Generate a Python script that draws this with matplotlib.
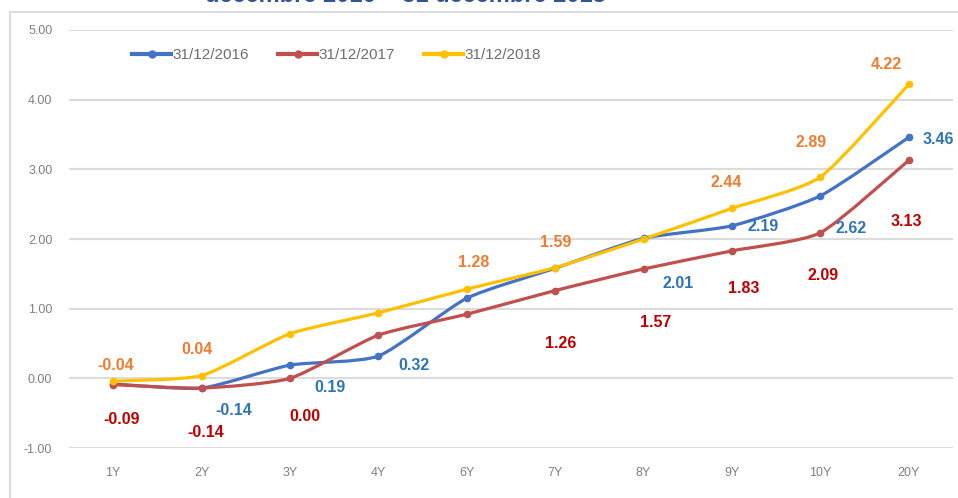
import numpy as np
import matplotlib.pyplot as plt
from matplotlib.path import Path
from matplotlib.patches import PathPatch
from matplotlib.lines import Line2D

plt.rcParams['font.family'] = ['Liberation Sans', 'DejaVu Sans']

maturities = ['1Y', '2Y', '3Y', '4Y', '6Y', '7Y', '8Y', '9Y', '10Y', '20Y']
dates = ['31/12/2016', '31/12/2017', '31/12/2018']
rates_2016 = [-0.08, -0.14, 0.19, 0.32, 1.15, 1.58, 2.01, 2.19, 2.62, 3.46]
rates_2017 = [-0.09, -0.14, 0.00, 0.62, 0.92, 1.26, 1.57, 1.83, 2.09, 3.13]
rates_2018 = [-0.04, 0.04, 0.64, 0.94, 1.28, 1.59, 2.00, 2.44, 2.89, 4.22]
yticks = [-1, 0, 1, 2, 3, 4, 5]

# label offsets in pixels, keyed by maturity index (None = no label)
off_2016 = [None, (32, -22), (40, -22), (36, -9), None, None,
            (35, -45), (31, -1), (31, -33), (30, -2)]
off_2017 = [(8, -35), (4, -44), (15, -38), None, None, (5, -53),
            (12, -54), (12, -38), (3, -43), (-2, -61)]
off_2018 = [(2, 16), (-5, 26), None, None, (7, 27), (0, 25),
            None, (-6, 26), (-9, 34), (-22, 20)]

series = [
    (rates_2016, '#4472C4', '#2E75B6', off_2016),
    (rates_2017, '#C0504D', '#C00000', off_2017),
    (rates_2018, '#FFC000', '#ED7D31', off_2018),
]


def smooth_path(x, y, k=0.1):
    # cubic bezier segments through every point, light smoothing
    pts = np.column_stack([x, y])
    n = len(pts)
    verts = [pts[0]]
    codes = [Path.MOVETO]
    for i in range(n - 1):
        p0 = pts[i - 1] if i > 0 else pts[i]
        p1 = pts[i]
        p2 = pts[i + 1]
        p3 = pts[i + 2] if i + 2 < n else pts[i + 1]
        c1 = p1 + (p2 - p0) * k
        c2 = p2 - (p3 - p1) * k
        verts += [c1, c2, p2]
        codes += [Path.CURVE4] * 3
    return Path(verts, codes)


W, H = 958, 498
fig = plt.figure(figsize=(W / 100, H / 100), dpi=100)
ax = fig.add_axes([69 / W, 1 - 448 / H, (953 - 69) / W, (448 - 30) / H])

x = np.arange(len(maturities))
for vals, col, lcol, offs in series:
    ax.add_patch(PathPatch(smooth_path(x, vals), fill=False, edgecolor=col,
                           linewidth=2.3, capstyle='round', zorder=3))
    ax.plot(x, vals, linestyle='none', marker='o', markersize=4.5,
            color=col, zorder=4)
    for i, v in enumerate(vals):
        if offs[i] is None:
            continue
        ax.annotate(f'{v:.2f}', (i, v), xytext=offs[i],
                    textcoords='offset pixels', ha='center', va='center',
                    fontsize=11.5, fontweight='bold', color=lcol, zorder=5)

ax.set_xlim(-0.5, len(maturities) - 0.5)
ax.set_ylim(-1, 5)
ax.set_xticks(x)
ax.set_xticklabels(maturities)
ax.set_yticks(yticks)
ax.set_yticklabels([f'{t:.2f}' for t in yticks])
ax.tick_params(length=0, labelsize=9, colors='#808080')
ax.tick_params(axis='x', pad=14)
ax.tick_params(axis='y', pad=12)
for s in ax.spines.values():
    s.set_visible(False)
ax.grid(axis='y', color='#dcdcdc', linewidth=1.5)
ax.set_axisbelow(True)

handles = [Line2D([], [], color=c, linewidth=3, marker='o', markersize=5)
           for _, c, _, _ in series]
fig.legend(handles, dates, loc='center left', bbox_to_anchor=(118 / W, 1 - 55 / H),
           ncol=3, frameon=False, fontsize=11, labelcolor='#6e6e6e',
           handlelength=2.6, handletextpad=0.05, columnspacing=1.9)

# chart area border
fig.add_artist(Line2D([10 / W, 1], [1 - 12 / H, 1 - 12 / H], color='#dddddd', linewidth=1.5))
fig.add_artist(Line2D([10 / W, 10 / W], [0, 1 - 12 / H], color='#dddddd', linewidth=1.5))

fig.text(405 / W, 1 - 2 / H, 'décembre 2016 – 31 décembre 2018', ha='center',
         va='baseline', fontsize=17, fontweight='bold', color='#2F5597')

fig.savefig('out.png', dpi=100)
